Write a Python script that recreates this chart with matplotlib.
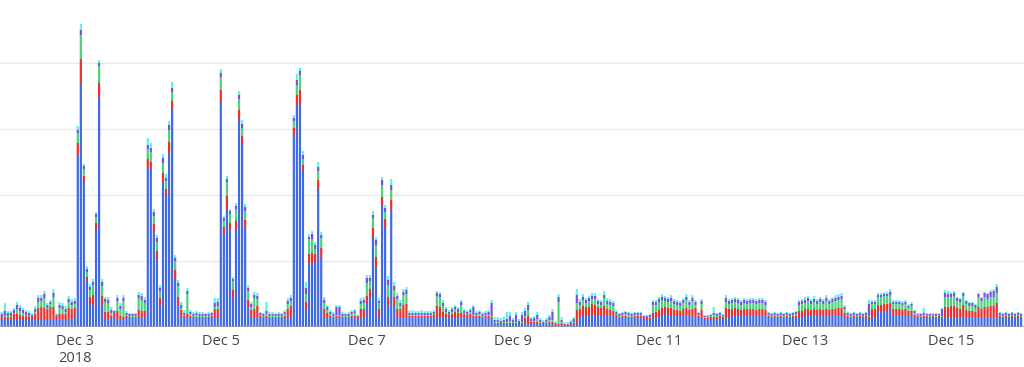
import matplotlib.pyplot as plt
import numpy as np
import pandas as pd

# hourly stacked counts, Dec 2 00:00 .. Dec 15 23:00 (one row per day)
blue = [
    8, 8, 8, 8, 8, 8, 8, 8, 8, 8, 8, 8, 8, 8, 8, 8, 8, 8, 8, 8, 8, 8, 8, 8,
    12, 172, 243, 145, 45, 24, 22, 97, 229, 22, 8, 8, 9, 9, 8, 8, 8, 9, 9, 9, 9, 9, 9, 9,
    160, 158, 95, 68, 22, 145, 131, 174, 217, 47, 22, 10, 10, 10, 9, 9, 9, 9, 9, 9, 9, 9, 10, 10,
    225, 94, 118, 97, 30, 98, 208, 183, 99, 20, 10, 10, 10, 9, 9, 9, 9, 9, 9, 9, 9, 9, 9, 10,
    192, 221, 223, 155, 17, 64, 63, 66, 138, 69, 10, 10, 9, 9, 9, 9, 9, 9, 9, 9, 9, 8, 10, 10,
    24, 30, 89, 60, 10, 122, 100, 22, 118, 22, 10, 10, 10, 10, 10, 10, 10, 10, 10, 10, 10, 10, 10, 10,
    10, 10, 10, 10, 10, 10, 10, 10, 10, 10, 10, 9, 9, 9, 9, 9, 9, 8, 3, 3, 3, 3, 3, 3,
    3, 3, 3, 3, 3, 3, 3, 3, 3, 3, 3, 3, 3, 3, 2, 2, 2, 1, 1, 2, 3, 4, 10, 12,
    12, 12, 12, 12, 12, 12, 12, 12, 11, 11, 10, 9, 9, 9, 9, 9, 9, 9, 9, 8, 8, 8, 10, 10,
    10, 11, 13, 12, 12, 11, 11, 11, 11, 11, 11, 11, 10, 9, 9, 8, 8, 8, 8, 8, 9, 8, 9, 10,
    11, 11, 11, 11, 11, 11, 11, 11, 11, 11, 11, 11, 9, 9, 9, 9, 9, 9, 9, 9, 9, 9, 10, 10,
    11, 11, 11, 11, 11, 11, 11, 11, 11, 11, 11, 11, 11, 10, 9, 9, 9, 9, 9, 9, 9, 8, 9, 10,
    15, 15, 16, 16, 17, 12, 12, 12, 12, 12, 11, 11, 9, 9, 9, 9, 9, 9, 9, 9, 9, 9, 10, 10,
    10, 10, 10, 10, 10, 10, 10, 10, 10, 10, 10, 10, 10, 10, 10, 10, 9, 9, 9, 9, 9, 9, 9, 9,
]
red = [
    2, 2, 2, 2, 5, 5, 4, 3, 3, 2, 2, 5, 11, 12, 11, 10, 12, 12, 2, 5, 5, 5, 11, 10,
    7, 12, 25, 6, 5, 6, 10, 7, 15, 9, 7, 7, 2, 5, 8, 3, 2, 2, 1, 1, 1, 8, 7, 7,
    8, 7, 8, 8, 7, 9, 7, 11, 9, 10, 8, 7, 1, 3, 2, 1, 1, 1, 1, 1, 1, 2, 8, 8,
    12, 6, 13, 7, 7, 8, 9, 8, 8, 7, 7, 8, 11, 2, 1, 2, 1, 1, 1, 1, 1, 2, 9, 11,
    7, 11, 14, 7, 8, 9, 11, 7, 9, 10, 8, 4, 2, 1, 2, 2, 1, 1, 1, 2, 2, 1, 8, 8,
    7, 8, 10, 10, 8, 8, 8, 8, 9, 8, 8, 8, 12, 13, 1, 1, 1, 1, 1, 1, 1, 1, 2, 11,
    10, 5, 3, 2, 3, 5, 4, 4, 3, 2, 3, 2, 2, 2, 1, 2, 2, 2, 1, 1, 1, 1, 1, 1,
    1, 1, 1, 1, 6, 8, 2, 2, 2, 1, 1, 1, 2, 2, 1, 1, 2, 1, 1, 1, 1, 13, 8, 9,
    8, 8, 11, 10, 8, 7, 9, 6, 6, 5, 2, 1, 2, 2, 1, 1, 2, 2, 2, 1, 1, 1, 4, 5,
    7, 8, 7, 7, 7, 6, 6, 5, 7, 8, 6, 7, 9, 2, 8, 1, 1, 2, 2, 2, 2, 2, 10, 8,
    7, 8, 7, 6, 7, 7, 7, 7, 6, 7, 7, 6, 2, 1, 2, 1, 2, 1, 2, 1, 2, 2, 6, 6,
    7, 7, 6, 7, 6, 7, 6, 7, 6, 7, 7, 8, 8, 4, 2, 1, 2, 1, 2, 1, 2, 2, 9, 8,
    7, 7, 7, 7, 7, 6, 6, 6, 5, 6, 5, 5, 3, 2, 1, 2, 2, 1, 2, 1, 2, 1, 10, 10,
    11, 11, 9, 8, 12, 7, 6, 6, 5, 10, 8, 10, 10, 11, 11, 14, 2, 1, 2, 1, 2, 1, 2, 1,
]
green = [
    0, 1, 1, 1, 1, 5, 4, 3, 1, 1, 0, 2, 6, 6, 10, 1, 3, 10, 0, 6, 5, 2, 6, 4,
    4, 10, 24, 7, 5, 7, 10, 6, 17, 10, 10, 9, 3, 0, 10, 7, 16, 1, 1, 1, 1, 12, 11, 8,
    10, 10, 8, 9, 7, 10, 8, 12, 9, 9, 11, 2, 1, 20, 2, 1, 2, 1, 1, 1, 1, 1, 2, 3,
    13, 6, 14, 9, 9, 12, 11, 8, 9, 9, 3, 11, 7, 1, 1, 2, 1, 1, 1, 1, 1, 2, 5, 5,
    7, 10, 15, 6, 8, 15, 14, 5, 9, 10, 6, 3, 2, 1, 1, 1, 1, 1, 1, 2, 3, 0, 5, 6,
    13, 8, 10, 12, 6, 12, 7, 12, 10, 7, 10, 3, 10, 10, 1, 1, 1, 1, 1, 1, 1, 1, 1, 10,
    10, 6, 2, 1, 2, 3, 1, 8, 1, 1, 2, 1, 1, 2, 1, 1, 1, 1, 1, 1, 0, 1, 1, 2,
    1, 1, 0, 1, 2, 6, 1, 1, 3, 1, 0, 1, 2, 2, 0, 22, 1, 0, 0, 0, 1, 7, 4, 6,
    4, 6, 5, 6, 3, 3, 8, 5, 5, 5, 1, 1, 1, 2, 2, 1, 1, 1, 1, 0, 0, 1, 8, 7,
    8, 8, 6, 6, 7, 6, 5, 5, 6, 8, 5, 8, 3, 1, 6, 1, 1, 1, 2, 1, 1, 1, 6, 5,
    6, 6, 6, 5, 6, 5, 6, 6, 6, 6, 6, 5, 1, 1, 1, 1, 1, 1, 1, 1, 1, 2, 6, 7,
    6, 8, 6, 7, 6, 7, 6, 8, 6, 7, 8, 8, 9, 4, 1, 1, 1, 1, 1, 1, 1, 1, 5, 5,
    8, 8, 8, 8, 8, 5, 5, 5, 5, 5, 3, 5, 2, 1, 1, 1, 1, 1, 1, 1, 1, 1, 10, 10,
    9, 10, 7, 7, 9, 6, 5, 5, 4, 10, 8, 10, 8, 9, 9, 10, 1, 1, 1, 1, 1, 1, 1, 1,
]
purple = [
    3, 5, 3, 3, 3, 4, 3, 3, 3, 3, 2, 3, 4, 3, 4, 3, 2, 4, 2, 3, 3, 3, 3, 3,
    3, 3, 5, 3, 3, 3, 3, 3, 3, 4, 3, 3, 3, 2, 3, 3, 3, 2, 2, 2, 2, 3, 4, 3,
    4, 4, 4, 4, 3, 5, 3, 5, 4, 3, 3, 3, 2, 3, 2, 2, 2, 2, 2, 2, 2, 2, 4, 4,
    4, 3, 3, 3, 2, 3, 4, 4, 4, 3, 3, 3, 3, 2, 2, 3, 2, 2, 2, 2, 2, 2, 3, 3,
    3, 5, 4, 4, 6, 2, 5, 4, 4, 3, 3, 3, 2, 2, 8, 8, 2, 2, 2, 2, 2, 2, 3, 3,
    5, 3, 3, 5, 2, 5, 4, 5, 5, 4, 3, 3, 3, 4, 2, 2, 2, 2, 2, 2, 2, 2, 2, 3,
    3, 3, 3, 2, 3, 2, 3, 3, 2, 2, 2, 8, 2, 2, 2, 2, 3, 13, 2, 2, 2, 2, 3, 5,
    2, 7, 2, 7, 5, 5, 2, 3, 4, 2, 1, 2, 3, 8, 1, 5, 2, 1, 1, 2, 3, 8, 3, 3,
    3, 3, 3, 3, 3, 3, 3, 3, 3, 3, 2, 2, 2, 2, 2, 2, 2, 2, 2, 2, 2, 2, 3, 3,
    3, 3, 3, 3, 3, 3, 3, 3, 3, 3, 3, 3, 3, 2, 3, 1, 1, 1, 2, 2, 2, 1, 4, 3,
    3, 3, 3, 3, 3, 3, 3, 3, 3, 3, 3, 3, 2, 2, 2, 2, 2, 2, 2, 2, 2, 2, 3, 3,
    3, 3, 3, 3, 3, 3, 3, 3, 3, 3, 3, 3, 3, 2, 2, 2, 2, 2, 2, 2, 2, 12, 2, 2,
    2, 2, 2, 2, 3, 2, 2, 2, 2, 2, 2, 2, 2, 1, 2, 2, 1, 2, 1, 2, 1, 7, 4, 3,
    3, 3, 3, 3, 3, 3, 3, 3, 3, 3, 3, 4, 5, 5, 6, 6, 2, 2, 2, 2, 2, 2, 2, 2,
]
cyan = [
    2, 8, 2, 2, 2, 3, 3, 2, 2, 2, 2, 3, 3, 3, 3, 2, 2, 4, 2, 3, 3, 3, 3, 3,
    3, 4, 6, 2, 3, 3, 3, 2, 3, 3, 2, 3, 3, 1, 3, 3, 3, 2, 1, 1, 1, 3, 3, 3,
    7, 5, 3, 3, 3, 4, 4, 4, 6, 3, 3, 3, 3, 3, 2, 2, 2, 2, 2, 1, 2, 1, 5, 4,
    4, 2, 3, 2, 2, 3, 4, 4, 3, 3, 2, 3, 3, 1, 1, 9, 2, 2, 1, 2, 1, 2, 3, 3,
    3, 6, 3, 4, 6, 3, 3, 3, 5, 3, 3, 2, 2, 2, 2, 2, 2, 1, 2, 2, 2, 1, 3, 3,
    3, 3, 4, 3, 3, 3, 3, 4, 6, 4, 3, 3, 3, 3, 2, 3, 2, 2, 3, 2, 2, 2, 2, 2,
    2, 3, 2, 2, 2, 2, 2, 2, 2, 2, 2, 2, 2, 2, 2, 2, 2, 3, 3, 3, 3, 3, 7, 4,
    2, 3, 2, 3, 3, 3, 2, 2, 3, 2, 2, 2, 2, 3, 2, 3, 3, 2, 2, 2, 2, 6, 3, 3,
    2, 2, 3, 3, 2, 2, 4, 3, 3, 2, 2, 1, 1, 1, 1, 1, 1, 1, 1, 1, 1, 1, 2, 2,
    2, 3, 2, 2, 3, 2, 2, 2, 2, 3, 2, 3, 2, 1, 2, 1, 1, 1, 6, 1, 1, 1, 3, 2,
    2, 2, 2, 2, 2, 2, 2, 2, 2, 2, 2, 2, 1, 1, 1, 1, 1, 1, 1, 1, 1, 1, 2, 2,
    3, 2, 2, 3, 2, 2, 2, 3, 2, 2, 3, 3, 3, 2, 1, 1, 1, 1, 1, 1, 1, 4, 2, 2,
    2, 2, 2, 2, 3, 2, 2, 2, 2, 2, 2, 2, 1, 1, 1, 5, 1, 1, 1, 1, 1, 1, 3, 3,
    2, 2, 1, 1, 1, 1, 1, 1, 1, 1, 1, 1, 1, 2, 2, 3, 1, 1, 1, 1, 1, 1, 1, 1,
]
series = [blue, red, green, purple, cyan]
colors = ["#3f6ae3", "#e8312f", "#4fd17c", "#7650e0", "#5ff2ee"]

tick_dates = ["2018-12-03", "2018-12-05", "2018-12-07", "2018-12-09",
              "2018-12-11", "2018-12-13", "2018-12-15"]
tick_labels = ["Dec 3\n2018", "Dec 5", "Dec 7", "Dec 9", "Dec 11", "Dec 13", "Dec 15"]

hours = pd.date_range("2018-12-02", periods=len(blue), freq="h")

fig = plt.figure(figsize=(10.24, 3.67), dpi=100)
ax = fig.add_axes([0, 40 / 367, 1, 327 / 367])

bottom = np.zeros(len(hours))
for vals, c in zip(series, colors):
    vals = np.array(vals, dtype=float)
    ax.bar(hours, vals, width=0.72 / 24, bottom=bottom, color=c, linewidth=0,
           snap=False, zorder=3)
    bottom += vals

ax.set_xlim(pd.Timestamp("2018-12-02") - pd.Timedelta(minutes=34),
            pd.Timestamp("2018-12-15 23:00") + pd.Timedelta(minutes=58))
ax.set_ylim(0, 327)
ax.set_yticks([66, 132, 198, 264])
ax.yaxis.grid(True, color="#ebebeb", linewidth=1, zorder=0)
ax.tick_params(axis="y", left=False, labelleft=False)
ax.axhline(0, color="#9a9a9a", linewidth=1.2, zorder=4)

ax.set_xticks(pd.to_datetime(tick_dates))
ax.set_xticklabels(tick_labels, fontsize=10.5, color="#444444", family="Open Sans",
                   linespacing=1.2)
ax.tick_params(axis="x", length=0, pad=5)
for s in ax.spines.values():
    s.set_visible(False)

fig.savefig("out.png", dpi=100)
